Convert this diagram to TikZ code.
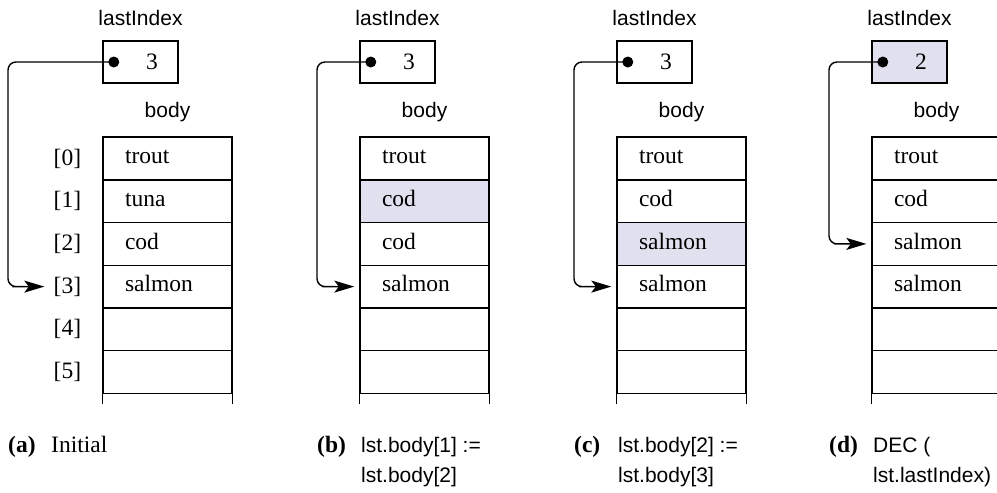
\documentclass[tikz,border=0pt]{standalone}
\usepackage{fontspec}
\setmainfont{Liberation Serif}
\setsansfont{Liberation Sans}
\usetikzlibrary{arrows.meta,calc,positioning}
\definecolor{hl}{HTML}{E0E0EE}
\begin{document}
\begin{tikzpicture}[x=1pt,y=-1pt,
  serif/.style={font=\fontsize{23.5}{28}\selectfont, inner sep=0pt},
  serifb/.style={font=\fontsize{23.5}{28}\selectfont\bfseries, inner sep=0pt},
  sans/.style={font=\sffamily\fontsize{21}{25}\selectfont, inner sep=0pt},
  frame/.style={line width=1.4pt},
  cell/.style={draw, frame, minimum width=129pt, minimum height=42.7pt,
    text width=85pt, inner xsep=22pt, inner ysep=0pt, align=left,
    font=\fontsize{23.5}{28}\selectfont, text height=16.5pt, text depth=5.9pt},
  libox/.style={draw, frame, minimum width=75pt, minimum height=42pt, inner sep=0pt},
  ptr/.style={line width=1.4pt, -{Stealth[length=20pt,width=12pt,inset=4.5pt]}},
  dot/.style={fill, radius=5.5pt},
]
\useasboundingbox (0,0) rectangle (997,493);
\clip (0,0) rectangle (997,493);

% ---------- panel (a)
\node[libox] (lia) at (140.5,62) {};
\node[serif] (va) at (152,62) {3};
\coordinate (da) at ($(lia.west)+(11.5,0)$);
\node[sans, anchor=base] (lla) at (140.5,25) {lastIndex};
\node[sans, anchor=base] (bla) at (167.5,117) {body};
\node[cell] (a0) at (167.5,158.5) {trout};
\node[cell] (a1) at (167.5,201.2) {tuna};
\node[cell] (a2) at (167.5,243.9) {cod};
\node[cell] (a3) at (167.5,286.6) {salmon};
\node[cell] (a4) at (167.5,329.3) {};
\node[cell] (a5) at (167.5,372.0) {};
\draw[frame] (a5.south west) -- ++(0,10) (a5.south east) -- ++(0,10);
\node[serif, left=21pt of a0] (ia0) {[0]};
\node[serif, left=21pt of a1] (ia1) {[1]};
\node[serif, left=21pt of a2] (ia2) {[2]};
\node[serif, left=21pt of a3] (ia3) {[3]};
\node[serif, left=21pt of a4] (ia4) {[4]};
\node[serif, left=21pt of a5] (ia5) {[5]};
\coordinate (ka) at (8,62);
\coordinate (ta) at ($(a3.west)+(-58,0)$);
\draw[ptr] [rounded corners=8pt] (da) -- (ka) |- ($(ta)+(-24,0)$) [sharp corners] -- (ta);
\fill[dot] (da) circle;
\node[serifb, anchor=base west] (cla) at (8,452) {(a)};
\node[serif, anchor=base west] (cta) at (51,452) {Initial};

% ---------- panel (b)
\begin{scope}[xshift=257pt]
\node[libox] (lib) at (140.5,62) {};
\node[serif] (vb) at (152,62) {3};
\coordinate (db) at ($(lib.west)+(11.5,0)$);
\node[sans, anchor=base] (llb) at (140.5,25) {lastIndex};
\node[sans, anchor=base] (blb) at (167.5,117) {body};
\node[cell] (b0) at (167.5,158.5) {trout};
\node[cell, fill=hl] (b1) at (167.5,201.2) {cod};
\node[cell] (b2) at (167.5,243.9) {cod};
\node[cell] (b3) at (167.5,286.6) {salmon};
\node[cell] (b4) at (167.5,329.3) {};
\node[cell] (b5) at (167.5,372.0) {};
\draw[frame] (b5.south west) -- ++(0,10) (b5.south east) -- ++(0,10);
\coordinate (kb) at (60,62);
\coordinate (tb) at ($(b3.west)+(-5,0)$);
\draw[ptr] [rounded corners=8pt] (db) -- (kb) |- ($(tb)+(-24,0)$) [sharp corners] -- (tb);
\fill[dot] (db) circle;
\node[serifb, anchor=base west] (clb) at (60,452) {(b)};
\node[sans, anchor=base west] (ctb1) at (104,452) {lst.body[1] :=};
\node[sans, anchor=base west] (ctb2) at (104,482) {lst.body[2]};
\end{scope}

% ---------- panel (c)
\begin{scope}[xshift=514pt]
\node[libox] (lic) at (140.5,62) {};
\node[serif] (vc) at (152,62) {3};
\coordinate (dc) at ($(lic.west)+(11.5,0)$);
\node[sans, anchor=base] (llc) at (140.5,25) {lastIndex};
\node[sans, anchor=base] (blc) at (167.5,117) {body};
\node[cell] (c0) at (167.5,158.5) {trout};
\node[cell] (c1) at (167.5,201.2) {cod};
\node[cell, fill=hl] (c2) at (167.5,243.9) {salmon};
\node[cell] (c3) at (167.5,286.6) {salmon};
\node[cell] (c4) at (167.5,329.3) {};
\node[cell] (c5) at (167.5,372.0) {};
\draw[frame] (c5.south west) -- ++(0,10) (c5.south east) -- ++(0,10);
\coordinate (kc) at (60,62);
\coordinate (tc) at ($(c3.west)+(-5,0)$);
\draw[ptr] [rounded corners=8pt] (dc) -- (kc) |- ($(tc)+(-24,0)$) [sharp corners] -- (tc);
\fill[dot] (dc) circle;
\node[serifb, anchor=base west] (clc) at (60,452) {(c)};
\node[sans, anchor=base west] (ctc1) at (104,452) {lst.body[2] :=};
\node[sans, anchor=base west] (ctc2) at (104,482) {lst.body[3]};
\end{scope}

% ---------- panel (d)
\begin{scope}[xshift=769pt]
\node[libox, fill=hl] (lid) at (140.5,62) {};
\node[serif] (vd) at (152,62) {2};
\coordinate (dd) at ($(lid.west)+(11.5,0)$);
\node[sans, anchor=base] (lld) at (140.5,25) {lastIndex};
\node[sans, anchor=base] (bld) at (167.5,117) {body};
\node[cell] (d0) at (167.5,158.5) {trout};
\node[cell] (d1) at (167.5,201.2) {cod};
\node[cell] (d2) at (167.5,243.9) {salmon};
\node[cell] (d3) at (167.5,286.6) {salmon};
\node[cell] (d4) at (167.5,329.3) {};
\node[cell] (d5) at (167.5,372.0) {};
\draw[frame] (d5.south west) -- ++(0,10) (d5.south east) -- ++(0,10);
\coordinate (kd) at (60,62);
\coordinate (td) at ($(d2.west)+(-5,0)$);
\draw[ptr] [rounded corners=8pt] (dd) -- (kd) |- ($(td)+(-24,0)$) [sharp corners] -- (td);
\fill[dot] (dd) circle;
\node[serifb, anchor=base west] (cld) at (60,452) {(d)};
\node[sans, anchor=base west] (ctd1) at (104,452) {DEC (};
\node[sans, anchor=base west] (ctd2) at (104,482) {lst.lastIndex)};
\end{scope}
\end{tikzpicture}
\end{document}
